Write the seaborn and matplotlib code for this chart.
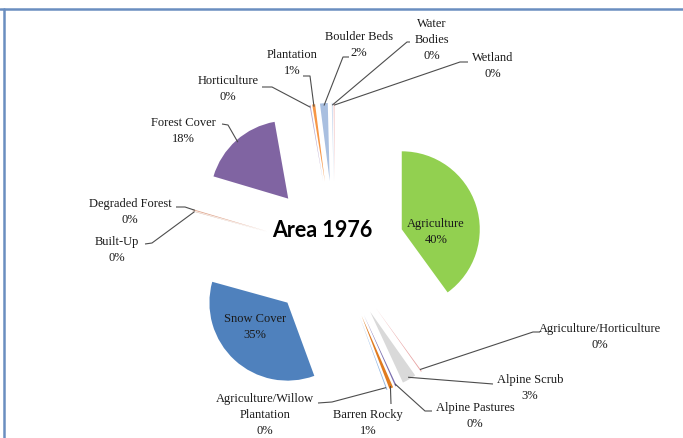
import numpy as np
import matplotlib
matplotlib.use("Agg")
import matplotlib.pyplot as plt
import seaborn as sns
from matplotlib.lines import Line2D

# ---------------- data ----------------
categories = ["Agriculture", "Agriculture/Horticulture", "Alpine Scrub", "Alpine Pastures",
              "Barren Rocky", "Agriculture/Willow\nPlantation", "Snow Cover", "Built-Up",
              "Degraded Forest", "Forest Cover", "Horticulture", "Plantation",
              "Boulder Beds", "Water\nBodies", "Wetland"]
values = [40.0, 0.2, 2.9, 0.3, 0.8, 0.2, 34.9, 0.1, 0.2, 17.6, 0.2, 0.6, 1.6, 0.2, 0.2]
colors = ["#92D050", "#E8A3A3", "#D9D9D9", "#7B6FB0", "#E07B20", "#8EB4E3", "#4F81BD",
          "#D9B3A0", "#E0A890", "#8064A2", "#B7A6CC", "#F79646", "#A9BFE0", "#C9D9EE", "#F2C2C2"]
title = "Area 1976"

# ---------------- layout (pixels) ----------------
W, H = 683, 439
CX, CY, R_PX = 335, 252, 78
EXPLODE = 0.9
# label text centre, and leader points (pixels) from text to the wedge
label_layout = {
    "Agriculture": dict(pos=(436, 232), inside=True),
    "Snow Cover": dict(pos=(255, 327), inside=True),
    "Forest Cover": dict(pos=(183, 131), lead=[(222, 125), (228, 126)]),
    "Horticulture": dict(pos=(228, 89), lead=[(262, 88), (272, 88)]),
    "Plantation": dict(pos=(292, 63), lead=[(303, 77), (310, 77)]),
    "Boulder Beds": dict(pos=(359, 45), lead=[(349, 58), (343, 58)]),
    "Water\nBodies": dict(pos=(432, 40), lead=[(410, 43), (407, 43)]),
    "Wetland": dict(pos=(493, 66), lead=[(468, 63), (460, 63)]),
    "Degraded Forest": dict(pos=(130, 212), lead=[(176, 208), (185, 208)]),
    "Built-Up": dict(pos=(117, 250), lead=[(145, 245), (152, 244)]),
    "Agriculture/Willow\nPlantation": dict(pos=(265, 415), lead=[(318, 404), (332, 403)]),
    "Barren Rocky": dict(pos=(368, 423), lead=[(391, 405)]),
    "Alpine Pastures": dict(pos=(475, 416), lead=[(432, 412), (425, 412)]),
    "Alpine Scrub": dict(pos=(530, 388), lead=[(493, 385)]),
    "Agriculture/Horticulture": dict(pos=(600, 337), lead=[(540, 333), (533, 333)]),
}

sns.set_theme(style="white")
plt.rcParams["font.family"] = ["Liberation Serif", "DejaVu Serif"]


def to_data(x, y):
    return ((x - CX) / R_PX, (CY - y) / R_PX)


fig = plt.figure(figsize=(W / 100, H / 100), dpi=100)
fig.patch.set_facecolor("white")
ax = fig.add_axes([0, 0, 1, 1])

wedges, _ = ax.pie(values, colors=colors, startangle=90, counterclock=False,
                   explode=[EXPLODE] * len(values), radius=1,
                   wedgeprops=dict(linewidth=0))
ax.set_xlim(to_data(0, 0)[0], to_data(W, 0)[0])
ax.set_ylim(to_data(0, H)[1], to_data(0, 0)[1])
ax.set_aspect("auto")
ax.axis("off")

total = sum(values)
for w, cat, v in zip(wedges, categories, values):
    lay = label_layout[cat]
    pct = int(round(v / total * 100))
    txt = f"{cat}\n{pct}%"
    x, y = to_data(*lay["pos"])
    ax.text(x, y, txt, ha="center", va="center", fontsize=9, color="#1a1a1a",
            linespacing=1.45)
    if lay.get("inside"):
        continue
    mid = np.deg2rad((w.theta1 + w.theta2) / 2)
    cx, cy = w.center
    anchor = (cx + 0.97 * np.cos(mid), cy + 0.97 * np.sin(mid))
    pts = [to_data(*p) for p in lay["lead"]] + [anchor]
    xs, ys = zip(*pts)
    ax.plot(xs, ys, color="#4d4d4d", lw=0.8, solid_capstyle="butt")

tx, ty = to_data(322, 231)
ax.text(tx, ty, title, ha="center", va="center", fontsize=15.5, fontweight="bold",
        family=["Lato", "DejaVu Sans"], color="black")

# chart border (top and left edges visible)
fig.add_artist(Line2D([0, 1], [1 - 9.5 / H, 1 - 9.5 / H], transform=fig.transFigure,
                      color="#6A8EC0", lw=1.8))
fig.add_artist(Line2D([3.5 / W, 3.5 / W], [0, 1 - 9.5 / H], transform=fig.transFigure,
                      color="#6A8EC0", lw=1.8))

fig.savefig("out.png", dpi=100, facecolor="white")
